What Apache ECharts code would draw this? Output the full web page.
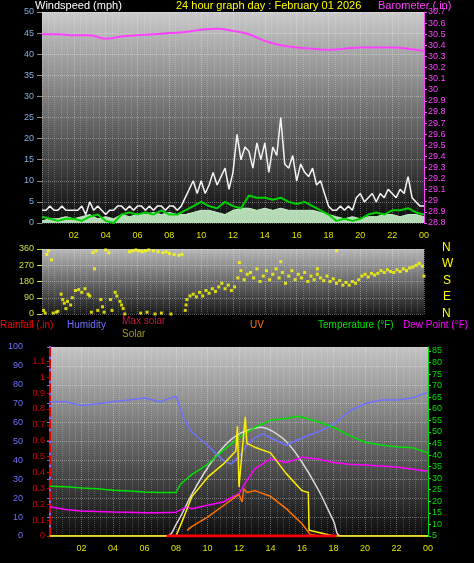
<!DOCTYPE html>
<html>
<head>
<meta charset="utf-8">
<script src="https://cdn.jsdelivr.net/npm/echarts@6/dist/echarts.min.js"></script>
<style>
  html, body { margin: 0; padding: 0; background: #000; }
  #chart { width: 474px; height: 563px; }
</style>
</head>
<body>
<div id="chart"></div>
<script>
// ---- data ----
// top panel
var baroHours = [0,1,2,3,4,5,6,7,8,9,10,11,12,13,14,15,16,17,18,19,20,21,22,23,24];
var baroValues = [30.50,30.50,30.49,30.49,30.46,30.48,30.49,30.50,30.51,30.52,30.54,30.55,30.53,30.50,30.44,30.40,30.38,30.37,30.36,30.37,30.38,30.38,30.38,30.37,30.35];

// gust, every 15 min
var gustValues = [3,3,4,3, 3,4,3,3, 3,3,4,2, 5,3,4,3, 2,3,3,4, 4,3,4,3,
  4,4,3,4, 3,4,4,3, 4,4,3,4, 6,8,10,7, 10,7,9,12, 9,11,13,8,
  12,21,15,18, 17,13,19,15, 19,12,18,16, 25,14,13,16, 10,14,12,11, 13,9,10,7,
  4,3,3,4, 3,4,3,6, 7,5,6,7, 5,7,6,8, 7,6,8,7, 11,6,5,4, 4];

// average wind, every 30 min
var avgWind = [1.5,1,0.5,1,1,0.5,1.5,2,0.5,0,2,2.5,2,2.5,2,3,2,2,3,4,5,4,3.5,5,4,3.5,
  6.5,6,6,5.5,6,5,4.5,5,4,3,2,0.5,1,0.5,1,2,2.5,2,3,3,3.5,2.5,2];
// wind speed, every 30 min
var windSpeed = [0.5,1,1,1.5,1,1.5,2,1,1.5,1,2,1.5,2,2,2.5,2,2.5,2,2,2.5,3,3,2.5,2,3,3.5,
  3.5,3,3.5,3,3.5,3,3,3,3,2.5,2,1.5,1,1.5,1,1.5,1.5,2,2,1.5,2,2,1.5];

// wind direction [hour, degrees]
var windDir = [[0.1,20],[0.2,5],[0.3,330],[0.4,350],[0.6,300],[0.7,5],[0.9,10],[1,15],
  [1.2,110],[1.3,80],[1.4,60],[1.6,70],[1.8,50],[1.9,90],[1.5,30],
  [2.1,130],[2.3,135],[2.5,120],[2.7,140],[2.9,110],[3.0,100],
  [3.1,10],[3.2,340],[3.3,250],[3.5,20],[3.7,80],[3.8,40],[3.9,10],[3.4,350],
  [4.0,355],[4.2,340],[4.4,20],[4.6,120],[4.7,100],[4.9,70],[5.0,50],[4.3,80],
  [5.1,30],[5.2,0],[5.5,345],[5.7,350],[5.9,355],
  [6.1,350],[6.3,345],[6.5,350],[6.7,355],[6.2,5],[6.6,10],
  [7.0,350],[7.3,345],[7.6,340],[7.8,345],[7.1,0],[7.5,5],
  [8.0,335],[8.3,330],[8.6,325],[8.8,330],[8.1,0],
  [9.0,20],[9.05,50],[9.1,80],[9.3,100],[9.5,110],[9.7,95],[9.9,120],
  [10.1,100],[10.3,130],[10.5,115],[10.7,140],[10.9,125],
  [11.1,150],[11.3,170],[11.5,140],[11.7,160],[11.9,130],
  [12.1,150],[12.3,200],[12.5,240],[12.7,190],[12.9,220],[12.4,285],
  [13.1,230],[13.3,200],[13.5,250],[13.7,180],[13.9,210],
  [14.1,240],[14.3,190],[14.5,220],[14.7,250],[14.9,200],[15,290],
  [15.1,230],[15.3,170],[15.5,210],[15.7,240],[15.9,190],
  [16.1,220],[16.3,200],[16.5,230],[16.7,180],[16.9,210],
  [17.1,190],[17.3,220],[17.5,200],[17.7,185],[17.9,210],[17.3,250],
  [18.1,180],[18.3,195],[18.5,170],[18.7,185],[18.9,160],[18.5,350],
  [19.1,175],[19.3,160],[19.5,180],[19.7,170],[19.9,190],
  [20.1,210],[20.3,220],[20.5,205],[20.7,225],[20.9,215],
  [21.1,225],[21.3,240],[21.5,230],[21.7,245],[21.9,235],
  [22.1,230],[22.3,245],[22.5,235],[22.7,250],[22.9,240],
  [23.1,255],[23.3,260],[23.5,270],[23.7,280],[23.9,265],[24,210]];

// bottom panel
var humHours = [0,1,2,3,4,5,6,7,8,8.5,9,10,11,11.5,12,12.5,13,13.5,14,15,16,17,18,19,20,21,22,23,24];
var humValues = [71,71,69,70,71,72,73,71,74,62,55,48,40,38,42,48,52,54,52,48,52,55,59,66,70,72,72,73,76];

var tempHours = [0,1,2,3,4,5,6,7,8,8.3,9,10,11,12,13,14,15,15.8,17,18,19,20,21,22,23,24];
var tempValues = [26.5,26.3,25.8,25.4,24.8,24.4,24,23.8,23.8,27.5,31.5,36,42,47.5,52,55,55.8,56.8,54.5,52,48.5,45.5,44.3,43.6,43.2,41];

var dewHours = [0,1,2,3,4,5,6,7,8,8.7,9,10,11,12,12.5,13,14,15,16,17,18,19,20,22,24];
var dewValues = [17.6,16.5,15.8,15.6,15.4,15.3,15.1,15,15.3,17.6,16.8,18.3,19.7,23.3,29,34,38.3,36.8,39,38.3,36.8,36,35.7,34.8,33];

// solar and UV, drawn in the humidity scale (no own axis shown)
var maxSolarHours = [0,7.4,8,9,10,11,12,13,13.4,14,15,16,17,18,18.5,24];
var maxSolarValues = [0,0,6,22,36,47,54,57,57.5,56,50,39,25,8,0,0];

var solarHours = [0,8,8.5,9,10,11,11.8,11.9,12.0,12.2,12.4,12.5,13,14,15,16,16.4,16.45,17,18,24];
var solarValues = [0,0,10,20.7,31,38,45,58,26,45,63,49,47,44,33,24,23,3,2,0,0];

var uvHours = [8.7,9,10,11,12,12.2,12.3,12.5,13,14,15,16,16.5,17];
var uvValues = [3,5,10,16,22,18,25,23,24,21,14.5,6.5,1,0];

var rainHours = [7.4,18.2];
var rainValues = [0,0];

function pairs(xs, ys) { return xs.map(function(x, i){ return [x, ys[i]]; }); }
function steps(vals, per) { return vals.map(function(v, i){ return [i / per, v]; }); }

var hourLabel = function(v){
  if (v === 0) return '';
  var h = v % 24;
  return (h < 10 ? '0' : '') + h;
};
var dots = { type: 'dotted', color: 'rgba(255,255,255,0.35)' };
function bg(top, bottom){
  return { type: 'linear', x: 0, y: 0, x2: 0, y2: 1,
    colorStops: [{offset: 0, color: top}, {offset: 1, color: bottom}] };
}
function xAx(grid, labels){
  return { type: 'value', gridIndex: grid, min: 0, max: 24, interval: 2,
    axisLine: {show: false}, axisTick: {show: false},
    axisLabel: {show: labels, color: '#e0e000', fontSize: 9, formatter: hourLabel, margin: 8},
    splitLine: {show: true, lineStyle: dots}, minorTick: {show: false},
    minorSplitLine: {show: true, lineStyle: {type: 'dotted', color: 'rgba(255,255,255,0.2)'}} };
}
var F = 'Liberation Sans';
var TF = '11px ' + F;
var LF = '10px ' + F;

var myChart = echarts.init(document.getElementById('chart'));
var option = {
  backgroundColor: '#000',
  animation: false,
  textStyle: {fontFamily: F},
  grid: [
    {left: 42, right: 50, top: 12, height: 211, show: true, borderWidth: 0, backgroundColor: bg('#cacaca', '#0c0c0c')},
    {left: 42, right: 50, top: 249, height: 65, show: true, borderWidth: 0, backgroundColor: bg('#b8b8b8', '#1a1a1a')},
    {left: 50, right: 46, top: 347, height: 189, show: true, borderWidth: 0, backgroundColor: bg('#c4c4c4', '#0c0c0c')}
  ],
  xAxis: [xAx(0, true), xAx(1, false), xAx(2, true)],
  yAxis: [
    {type: 'value', gridIndex: 0, position: 'left', min: 0, max: 50, interval: 5,
      axisLine: {show: false}, axisTick: {show: true, lineStyle: {color: '#888'}},
      axisLabel: {color: '#80b0e0', fontSize: 9}, splitLine: {lineStyle: dots}},
    {type: 'value', gridIndex: 0, position: 'right', min: 28.8, max: 30.7, interval: 0.1,
      axisLine: {show: true, lineStyle: {color: '#ff40ff'}}, axisTick: {show: true, length: 3},
      axisLabel: {color: '#ff40ff', fontSize: 9, margin: 4, formatter: function(v){ return +v.toFixed(1); }},
      splitLine: {show: false}},
    {type: 'value', gridIndex: 1, position: 'left', min: 0, max: 360, interval: 90,
      axisLine: {show: false}, axisTick: {show: true, lineStyle: {color: '#c0e040'}},
      axisLabel: {color: '#c0e040', fontSize: 9}, splitLine: {lineStyle: dots}},
    {type: 'value', gridIndex: 2, position: 'left', min: 0, max: 100, interval: 10, offset: 22,
      axisLine: {show: true, lineStyle: {color: '#7070ff', width: 2}}, axisTick: {show: true, length: 3},
      axisLabel: {color: '#7070ff', fontSize: 9, margin: 5}, splitLine: {lineStyle: dots}},
    {type: 'value', gridIndex: 2, position: 'left', offset: 0, min: 0, max: 1.19, interval: 0.1,
      axisLine: {show: true, lineStyle: {color: '#e00000', type: 'dashed', width: 2}}, axisTick: {show: true, length: 3},
      axisLabel: {color: '#e00000', fontSize: 9, margin: 5, showMaxLabel: false, formatter: function(v){ return +v.toFixed(1); }},
      splitLine: {show: false}},
    {type: 'value', gridIndex: 2, position: 'right', min: 5, max: 86.7, interval: 5,
      axisLine: {show: true, lineStyle: {color: '#00e000'}}, axisTick: {show: true, length: 3},
      axisLabel: {color: '#00e000', fontSize: 9, margin: 4, showMaxLabel: false}, splitLine: {show: false}}
  ],
  series: [
    {type: 'line', xAxisIndex: 0, yAxisIndex: 0, data: steps(windSpeed, 2), symbol: 'none',
      lineStyle: {color: '#c8f0c8', width: 1}, areaStyle: {color: '#c8f0c8', opacity: 0.9}},
    {type: 'line', xAxisIndex: 0, yAxisIndex: 0, data: steps(gustValues, 4), symbol: 'none',
      lineStyle: {color: '#f4f4f4', width: 1.5}},
    {type: 'line', xAxisIndex: 0, yAxisIndex: 0, data: steps(avgWind, 2), symbol: 'none',
      lineStyle: {color: '#00d000', width: 2}},
    {type: 'line', xAxisIndex: 0, yAxisIndex: 1, data: pairs(baroHours, baroValues), symbol: 'none', smooth: true,
      lineStyle: {color: '#ff40ff', width: 2}},
    {type: 'scatter', xAxisIndex: 1, yAxisIndex: 2, data: windDir, symbol: 'rect', symbolSize: 3,
      itemStyle: {color: '#ffff00'}},
    {type: 'line', xAxisIndex: 2, yAxisIndex: 3, data: pairs(maxSolarHours, maxSolarValues), symbol: 'none', smooth: 0.4,
      lineStyle: {color: '#d8d8d8', width: 1.5}},
    {type: 'line', xAxisIndex: 2, yAxisIndex: 3, data: pairs(humHours, humValues), symbol: 'none',
      lineStyle: {color: '#7070ff', width: 1.5}},
    {type: 'line', xAxisIndex: 2, yAxisIndex: 5, data: pairs(tempHours, tempValues), symbol: 'none',
      lineStyle: {color: '#00e000', width: 1.5}},
    {type: 'line', xAxisIndex: 2, yAxisIndex: 5, data: pairs(dewHours, dewValues), symbol: 'none',
      lineStyle: {color: '#ff00ff', width: 1.5}},
    {type: 'line', xAxisIndex: 2, yAxisIndex: 3, data: pairs(uvHours, uvValues), symbol: 'none',
      lineStyle: {color: '#ff7000', width: 1.5}},
    {type: 'line', xAxisIndex: 2, yAxisIndex: 3, data: pairs(solarHours, solarValues), symbol: 'none',
      lineStyle: {color: '#ffee00', width: 1.5}},
    {type: 'line', xAxisIndex: 2, yAxisIndex: 4, data: pairs(rainHours, rainValues), symbol: 'none',
      lineStyle: {color: '#ff0000', width: 3}}
  ],
  graphic: [
    {type: 'text', left: 35, top: 0, style: {text: 'Windspeed (mph)', fill: '#fff', font: TF}},
    {type: 'text', left: 176, top: 0, style: {text: '24 hour graph day : February 01 2026', fill: '#ffff00', font: TF}},
    {type: 'text', left: 378, top: 0, style: {text: 'Barometer (.in)', fill: '#ff40ff', font: TF}},
    {type: 'text', left: 442, top: 242, style: {text: 'N', fill: '#ffff00', font: '12px ' + F}},
    {type: 'text', left: 442, top: 258, style: {text: 'W', fill: '#ffff00', font: '12px ' + F}},
    {type: 'text', left: 443, top: 275, style: {text: 'S', fill: '#ffff00', font: '12px ' + F}},
    {type: 'text', left: 443, top: 291, style: {text: 'E', fill: '#ffff00', font: '12px ' + F}},
    {type: 'text', left: 442, top: 308, style: {text: 'N', fill: '#ffff00', font: '12px ' + F}},
    {type: 'text', left: 0, top: 320, style: {text: 'Rainfall (.in)', fill: '#ff0000', font: LF}},
    {type: 'text', left: 67, top: 320, style: {text: 'Humidity', fill: '#7070ff', font: LF}},
    {type: 'text', left: 122, top: 316, style: {text: 'Max solar', fill: '#c0143c', font: LF}},
    {type: 'text', left: 122, top: 329, style: {text: 'Solar', fill: '#a09a20', font: LF}},
    {type: 'text', left: 250, top: 320, style: {text: 'UV', fill: '#ff7000', font: LF}},
    {type: 'text', left: 318, top: 320, style: {text: 'Temperature (°F)', fill: '#00e000', font: LF}},
    {type: 'text', left: 403, top: 320, style: {text: 'Dew Point (°F)', fill: '#ff00ff', font: LF}}
  ]
};
myChart.setOption(option);
</script>
</body>
</html>
